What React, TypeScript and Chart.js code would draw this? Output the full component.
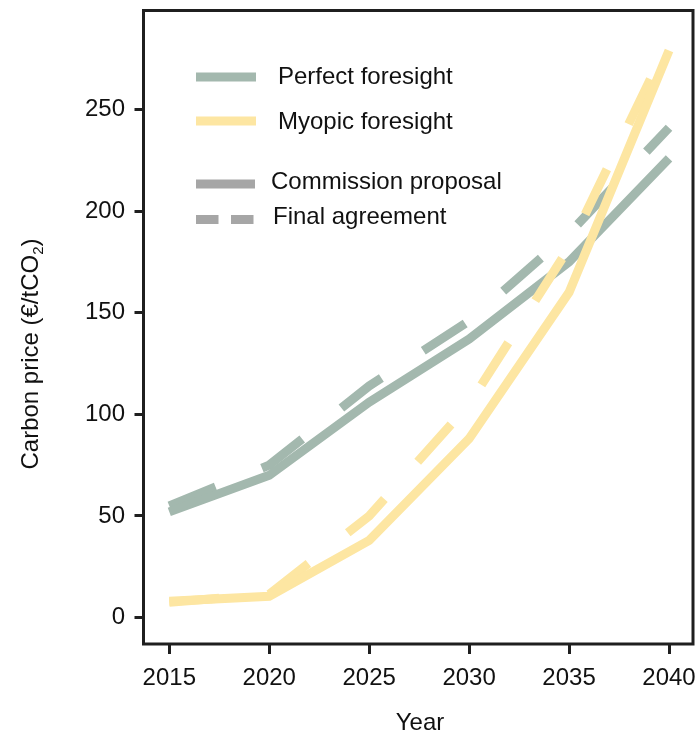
import React, { useEffect, useRef } from "react";
import { Chart, registerables } from "chart.js";

Chart.register(...registerables);

// ---- data ----
const years = [2015, 2020, 2025, 2030, 2035, 2040];
const perfectCommission = [52, 70, 106, 137, 175, 226];
const perfectFinal = [55, 75, 114, 146, 189, 241];
const myopicCommission = [8, 10.5, 38, 88, 160, 279];
const myopicFinal = [7.5, 11.5, 50, 105, 182, 284];
const xTickValues = [2015, 2020, 2025, 2030, 2035, 2040];
const yTickValues = [0, 50, 100, 150, 200, 250];
const scenarioLabels = ["Perfect foresight", "Myopic foresight"];
const policyLabels = ["Commission proposal", "Final agreement"];
const xTitle = "Year";
const yTitleMain = "Carbon price (€/tCO";
const yTitleSub = "2";
const yTitleEnd = ")";

// ---- styles ----
const GREEN = "#a3b8ae";
const YELLOW = "#fde6a2";
const GRAY = "#a6a6a6";
const INK = "#1f1f1f";
const FAMILY = "'Liberation Sans', Arial, Helvetica, sans-serif";
const FONT_SIZE = 24;
const LINE_W = 9;
const DASH = [50, 50];

const toPoints = (vals: number[]) => years.map((yr, i) => ({ x: yr, y: vals[i] }));

const decorPlugin = {
  id: "decor",
  afterDatasetsDraw(chart: any) {
    const { ctx, chartArea: a } = chart;
    ctx.save();
    // frame
    ctx.strokeStyle = INK;
    ctx.lineWidth = 3;
    ctx.setLineDash([]);
    ctx.strokeRect(a.left, a.top, a.right - a.left, a.bottom - a.top);

    // legend
    const font = `${FONT_SIZE}px ${FAMILY}`;
    ctx.font = font;
    ctx.fillStyle = "#111";
    ctx.textAlign = "left";
    ctx.textBaseline = "alphabetic";
    ctx.lineCap = "butt";
    ctx.lineWidth = LINE_W;

    const swatch = (x1: number, x2: number, y: number, color: string, dash: number[]) => {
      ctx.strokeStyle = color;
      ctx.setLineDash(dash);
      ctx.beginPath();
      ctx.moveTo(x1, y);
      ctx.lineTo(x2, y);
      ctx.stroke();
      ctx.setLineDash([]);
    };

    swatch(196, 256, 77, GREEN, []);
    ctx.fillText(scenarioLabels[0], 278, 83.5);
    swatch(196, 256, 121, YELLOW, []);
    ctx.fillText(scenarioLabels[1], 278, 128.5);
    swatch(196, 255, 184, GRAY, []);
    ctx.fillText(policyLabels[0], 271, 189);
    swatch(196, 255, 219.5, GRAY, [22.5, 12.5]);
    ctx.fillText(policyLabels[1], 273, 224);

    // x title
    ctx.textAlign = "center";
    ctx.fillText(xTitle, 420, 730);

    // y title (rotated, with subscript)
    ctx.save();
    ctx.translate(37.5, 354);
    ctx.rotate(-Math.PI / 2);
    ctx.textAlign = "left";
    const subFont = `15px ${FAMILY}`;
    ctx.font = font;
    const w1 = ctx.measureText(yTitleMain).width;
    const w3 = ctx.measureText(yTitleEnd).width;
    ctx.font = subFont;
    const w2 = ctx.measureText(yTitleSub).width;
    const total = w1 + w2 + w3;
    let x = -total / 2;
    ctx.font = font;
    ctx.fillText(yTitleMain, x, 0);
    x += w1;
    ctx.font = subFont;
    ctx.fillText(yTitleSub, x, 5);
    x += w2;
    ctx.font = font;
    ctx.fillText(yTitleEnd, x, 0);
    ctx.restore();

    ctx.restore();
  },
};

export default function App() {
  const ref = useRef<HTMLCanvasElement | null>(null);

  useEffect(() => {
    if (!ref.current) return;
    const lineDs = (vals: number[], color: string, dashed: boolean) => ({
      data: toPoints(vals),
      borderColor: color,
      backgroundColor: color,
      borderWidth: LINE_W,
      borderDash: dashed ? DASH : [],
      borderCapStyle: "butt",
      borderJoinStyle: "miter",
      pointRadius: 0,
      pointHoverRadius: 0,
      tension: 0,
      fill: false,
    });

    const tickFont = { size: FONT_SIZE, family: FAMILY };
    const zeroPad = (s: any) => {
      s.paddingTop = 0;
      s.paddingBottom = 0;
      s.paddingLeft = 0;
      s.paddingRight = 0;
    };

    const chart = new Chart(ref.current, {
      type: "line",
      data: {
        datasets: [
          { label: `${scenarioLabels[1]} – ${policyLabels[0]}`, ...lineDs(myopicCommission, YELLOW, false) },
          { label: `${scenarioLabels[1]} – ${policyLabels[1]}`, ...lineDs(myopicFinal, YELLOW, true) },
          { label: `${scenarioLabels[0]} – ${policyLabels[0]}`, ...lineDs(perfectCommission, GREEN, false) },
          { label: `${scenarioLabels[0]} – ${policyLabels[1]}`, ...lineDs(perfectFinal, GREEN, true) },
        ] as any,
      },
      options: {
        animation: false,
        responsive: false,
        devicePixelRatio: 1,
        layout: { padding: { left: 0, top: 10.5, right: 6, bottom: 0 } },
        plugins: {
          legend: { display: false },
          title: { display: false },
          tooltip: { enabled: false },
        },
        scales: {
          x: {
            type: "linear",
            min: 2013.71,
            max: 2041.2,
            afterBuildTicks: (s: any) => {
              s.ticks = xTickValues.map((v) => ({ value: v }));
            },
            afterFit: (s: any) => {
              s.height = 92;
              zeroPad(s);
            },
            border: { display: false },
            grid: {
              drawOnChartArea: false,
              drawTicks: true,
              tickLength: 10,
              tickWidth: 3,
              tickColor: INK,
              color: INK,
            },
            ticks: {
              font: tickFont,
              color: "#111",
              padding: 10,
              maxRotation: 0,
              autoSkip: false,
              callback: (v: any) => String(v),
            },
          },
          y: {
            type: "linear",
            min: -13,
            max: 298.7,
            afterBuildTicks: (s: any) => {
              s.ticks = yTickValues.map((v) => ({ value: v }));
            },
            afterFit: (s: any) => {
              s.width = 143.5;
              zeroPad(s);
            },
            border: { display: false },
            grid: {
              drawOnChartArea: false,
              drawTicks: true,
              tickLength: 9,
              tickWidth: 3,
              tickColor: INK,
              color: INK,
            },
            ticks: {
              font: tickFont,
              color: "#111",
              padding: 9.5,
              autoSkip: false,
              callback: (v: any) => String(v),
            },
          },
        },
      } as any,
      plugins: [decorPlugin],
    });
    return () => chart.destroy();
  }, []);

  return (
    <div style={{ position: "absolute", left: 0, top: 0, width: 699, height: 736, background: "#fff" }}>
      <canvas ref={ref} width={699} height={736} style={{ display: "block" }} />
    </div>
  );
}
